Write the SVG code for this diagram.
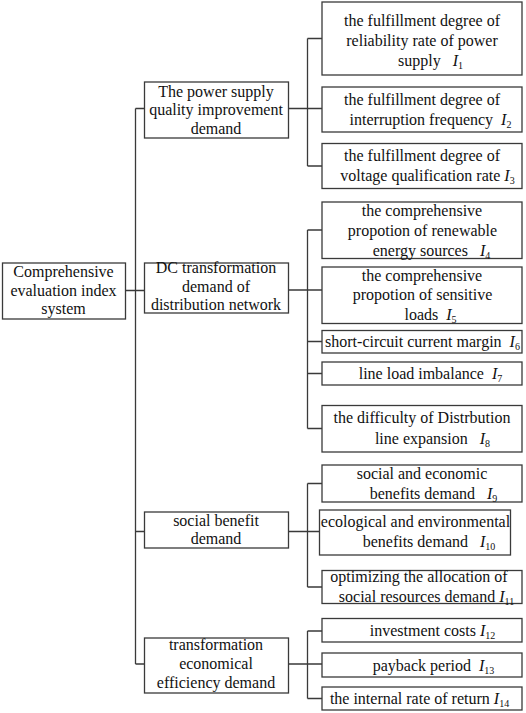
<svg xmlns="http://www.w3.org/2000/svg" width="526" height="713" viewBox="0 0 526 713">
<style>
.box{fill:#fff;stroke:#3a3a3a;stroke-width:1.3}
.ln{fill:none;stroke:#3a3a3a;stroke-width:1.3}
text{font-family:"Liberation Serif","Times New Roman",serif;font-size:16px;fill:#111;text-anchor:middle}
.i{font-style:italic}
.s{font-size:10px}
</style>
<rect width="526" height="713" fill="#fff"/>
<g id="connectors" class="ln">
<path d="M135.5 108.5V664M125 290.5H144.5M135.5 108.5H144.5M135.5 531.5H144.5M135.5 664H144.5"/>
<path d="M288.5 108.5H322M307.5 38.5V166M307.5 38.5H322M307.5 166H322"/>
<path d="M288.5 290H322M307.5 230V428.5M307.5 230H322M307.5 341.5H322M307.5 373.5H322M307.5 428.5H322"/>
<path d="M288.5 531.5H319.5M307.5 483.5V587M307.5 483.5H322M307.5 587H322"/>
<path d="M288.5 664H322M307.5 631V698.5M307.5 631H322M307.5 698.5H322"/>
</g>
<g id="root"><rect class="box" x="2.5" y="263" width="123" height="56"/>
<text x="63.5" y="277">Comprehensive</text><text x="63.5" y="295.5">evaluation index</text><text x="63.5" y="314">system</text></g>
<g id="b1"><rect class="box" x="144.5" y="82" width="144" height="56"/>
<text x="216" y="96.5">The power supply</text><text x="216" y="115">quality improvement</text><text x="216" y="133.5">demand</text></g>
<g id="b2"><rect class="box" x="144.5" y="263" width="144" height="50"/>
<text x="216" y="273">DC transformation</text><text x="216" y="291.5">demand of</text><text x="216" y="310">distribution network</text></g>
<g id="b3"><rect class="box" x="144.5" y="512" width="144" height="36"/>
<text x="216" y="526">social benefit</text><text x="216" y="544">demand</text></g>
<g id="b4"><rect class="box" x="144.5" y="638" width="144" height="55"/>
<text x="216" y="650">transformation</text><text x="216" y="669">economical</text><text x="216" y="688">efficiency demand</text></g>
<g id="l1"><rect class="box" x="322" y="2" width="200" height="73"/>
<text x="422" y="25.5">the fulfillment degree of</text><text x="422" y="45.5">reliability rate of power</text><text x="430.5" y="65.5">supply&#160;&#160;&#160;<tspan class="i">I</tspan><tspan class="s" dy="3">1</tspan></text></g>
<g id="l2"><rect class="box" x="322" y="87" width="200" height="45"/>
<text x="422" y="105">the fulfillment degree of</text><text x="430.5" y="125">interruption frequency&#160;&#160;<tspan class="i">I</tspan><tspan class="s" dy="3">2</tspan></text></g>
<g id="l3"><rect class="box" x="322" y="143.5" width="200" height="45"/>
<text x="422" y="161">the fulfillment degree of</text><text x="427.5" y="181">voltage qualification rate&#160;<tspan class="i">I</tspan><tspan class="s" dy="3">3</tspan></text></g>
<g id="l4"><rect class="box" x="322" y="202" width="200" height="56.5"/>
<text x="422" y="216">the comprehensive</text><text x="422.5" y="236">propotion of renewable</text><text x="431.5" y="255.5">energy sources&#160;&#160;&#160;<tspan class="i">I</tspan><tspan class="s" dy="3">4</tspan></text></g>
<g id="l5"><rect class="box" x="322" y="267" width="200" height="56.5"/>
<text x="422" y="280.5">the comprehensive</text><text x="422.5" y="300">propotion of sensitive</text><text x="430.5" y="319.5">loads&#160;&#160;<tspan class="i">I</tspan><tspan class="s" dy="3">5</tspan></text></g>
<g id="l6"><rect class="box" x="322" y="330.5" width="200" height="22.5"/>
<text x="422.5" y="347">short-circuit current margin&#160;&#160;<tspan class="i">I</tspan><tspan class="s" dy="3">6</tspan></text></g>
<g id="l7"><rect class="box" x="322" y="362" width="200" height="23"/>
<text x="430.5" y="379">line load imbalance&#160;&#160;<tspan class="i">I</tspan><tspan class="s" dy="3">7</tspan></text></g>
<g id="l8"><rect class="box" x="322" y="405.5" width="200" height="46.5"/>
<text x="422" y="423">the difficulty of Distrbution</text><text x="432.5" y="443.5">line expansion&#160;&#160;&#160;<tspan class="i">I</tspan><tspan class="s" dy="3">8</tspan></text></g>
<g id="l9"><rect class="box" x="322" y="465" width="200" height="37"/>
<text x="422" y="479">social and economic</text><text x="433.5" y="498.5">benefits demand&#160;&#160;&#160;<tspan class="i">I</tspan><tspan class="s" dy="3">9</tspan></text></g>
<g id="l10"><rect class="box" x="319.5" y="510" width="191" height="45"/>
<text x="415.5" y="527">ecological and environmental</text><text x="429" y="547">benefits demand&#160;&#160;&#160;<tspan class="i">I</tspan><tspan class="s" dy="3">10</tspan></text></g>
<g id="l11"><rect class="box" x="322" y="570.5" width="200" height="33"/>
<text x="419" y="581.5">optimizing the allocation of</text><text x="426.5" y="601.5">social resources demand&#160;<tspan class="i">I</tspan><tspan class="s" dy="3">11</tspan></text></g>
<g id="l12"><rect class="box" x="322" y="618.5" width="200" height="23.5"/>
<text x="432.5" y="636">investment costs&#160;<tspan class="i">I</tspan><tspan class="s" dy="3">12</tspan></text></g>
<g id="l13"><rect class="box" x="322" y="653" width="200" height="24"/>
<text x="433.5" y="670.5">payback period&#160;&#160;<tspan class="i">I</tspan><tspan class="s" dy="3">13</tspan></text></g>
<g id="l14"><rect class="box" x="322" y="687" width="200" height="23"/>
<text x="419.5" y="704">the internal rate of return&#160;<tspan class="i">I</tspan><tspan class="s" dy="3">14</tspan></text></g>
</svg>
